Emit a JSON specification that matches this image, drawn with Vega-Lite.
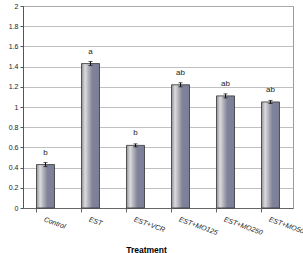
{
  "$schema": "https://vega.github.io/schema/vega-lite/v6.json",
  "width": 270,
  "height": 202,
  "autosize": "none",
  "padding": {"left": 23, "top": 6, "right": 10, "bottom": 45},
  "background": "white",
  "config": {
    "font": "Liberation Sans",
    "view": {"stroke": "#9a9a9a", "strokeWidth": 1}
  },
  "data": {
    "values": [
      {"treatment": "Control", "value": 0.43, "err": 0.02, "sig": "b"},
      {"treatment": "EST", "value": 1.43, "err": 0.02, "sig": "a"},
      {"treatment": "EST+VCR", "value": 0.62, "err": 0.015, "sig": "b"},
      {"treatment": "EST+MO125", "value": 1.22, "err": 0.02, "sig": "ab"},
      {"treatment": "EST+MO250", "value": 1.11, "err": 0.02, "sig": "ab"},
      {"treatment": "EST+MO500", "value": 1.05, "err": 0.015, "sig": "ab"}
    ]
  },
  "encoding": {
    "x": {
      "field": "treatment",
      "type": "nominal",
      "sort": null,
      "scale": {"paddingInner": 0.6, "paddingOuter": 0.3},
      "axis": {
        "title": "Treatment",
        "titleFontSize": 8.5,
        "titleFontWeight": "bold",
        "titleX": 123,
        "titleY": 37,
        "titleColor": "#000",
        "labelAngle": 20,
        "labelAlign": "left",
        "labelBaseline": "top",
        "labelFontSize": 7,
        "labelFontStyle": "italic",
        "labelColor": "#222",
        "labelPadding": 3,
        "labelOverlap": false,
        "labelBound": false,
        "bandPosition": 0,
        "tickSize": 4,
        "tickColor": "#666",
        "domainColor": "#666",
        "grid": false
      }
    },
    "y": {
      "field": "value",
      "type": "quantitative",
      "scale": {"domain": [0, 2], "nice": false},
      "axis": {
        "title": null,
        "values": [0, 0.2, 0.4, 0.6, 0.8, 1, 1.2, 1.4, 1.6, 1.8, 2],
        "format": "~g",
        "labelOverlap": false,
        "labelFontSize": 7,
        "labelColor": "#222",
        "tickSize": 3,
        "tickColor": "#555",
        "domainColor": "#555",
        "gridColor": "#b0b0b0",
        "gridWidth": 0.8,
        "labelPadding": 2
      }
    }
  },
  "layer": [
    {
      "mark": {
        "type": "bar",
        "stroke": "#333",
        "strokeWidth": 0.8,
        "color": {
          "gradient": "linear",
          "x1": 0, "x2": 1, "y1": 0, "y2": 0,
          "stops": [
            {"offset": 0, "color": "#909094"},
            {"offset": 0.2, "color": "#dcdce0"},
            {"offset": 0.4, "color": "#aeaeb6"},
            {"offset": 0.6, "color": "#808399"},
            {"offset": 1, "color": "#7a7e98"}
          ]
        }
      }
    },
    {
      "mark": {"type": "errorbar", "ticks": {"color": "#111", "size": 4}, "rule": {"color": "#111"}},
      "encoding": {
        "yError": {"field": "err"}
      }
    },
    {
      "mark": {"type": "text", "fontSize": 8, "dy": -12, "color": "#222"},
      "encoding": {
        "text": {"field": "sig"}
      }
    }
  ]
}
